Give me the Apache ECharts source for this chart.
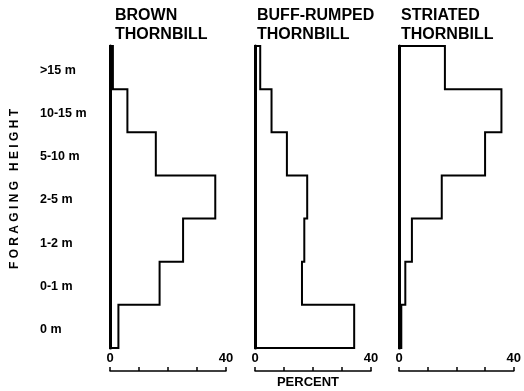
<!DOCTYPE html>
<html>
<head>
<meta charset="utf-8">
<script src="https://cdn.jsdelivr.net/npm/echarts@6/dist/echarts.min.js"></script>
<style>
  html, body { margin: 0; padding: 0; background: #fff; }
  #chart { width: 524px; height: 391px; }
</style>
</head>
<body>
<div id="chart"></div>
<script>
// foraging height classes, bottom to top
const heights = ['0 m', '0-1 m', '1-2 m', '2-5 m', '5-10 m', '10-15 m', '>15 m'];

// percent of observations per height class
const brown = [2.9, 17.1, 25.2, 36.3, 15.8, 6.0, 1.0];
const buffRumped = [34.2, 16.2, 17.0, 18.0, 11.0, 5.7, 1.8];
const striated = [0.8, 2.2, 4.5, 14.9, 30.0, 35.7, 16.0];

const titles = ['BROWN\nTHORNBILL', 'BUFF-RUMPED\nTHORNBILL', 'STRIATED\nTHORNBILL'];
const xTicks = [0, 40];

const font = "'Liberation Sans', Arial, sans-serif";

// step outline: baseline -> value -> up through each band -> back to baseline
const outline = (values) => {
  const pts = [[0, 0]];
  values.forEach((v, i) => {
    pts.push([v, i]);
    pts.push([v, i + 1]);
  });
  pts.push([0, values.length]);
  return pts;
};

const panels = [brown, buffRumped, striated];
const lefts = [110, 255, 399];

const chart = echarts.init(document.getElementById('chart'));

const grid = lefts.map((l) => ({ left: l, width: 116, top: 46, bottom: 43 }));

const xAxis = panels.map((_, i) => ({
  type: 'value',
  gridIndex: i,
  min: 0,
  max: 40,
  interval: 10,
  position: 'bottom',
  offset: 23,
  axisLine: { show: true, onZero: false, lineStyle: { color: '#000', width: 1.5 } },
  axisTick: { show: true, inside: true, length: 4, lineStyle: { color: '#000', width: 1.5 } },
  axisLabel: {
    inside: true,
    margin: 6,
    color: '#000',
    fontFamily: font,
    fontWeight: 'bold',
    fontSize: 13,
    formatter: (v) => (xTicks.includes(v) ? String(v) : '')
  },
  splitLine: { show: false }
}));

// hidden value axes carry the outlines, their axis line is the thick baseline
const yAxis = panels.map((_, i) => ({
  type: 'value',
  gridIndex: i,
  position: 'left',
  min: 0,
  max: heights.length,
  axisLine: { show: true, lineStyle: { color: '#000', width: 3 } },
  axisTick: { show: false },
  axisLabel: { show: false },
  splitLine: { show: false }
}));

// category axis only for the height labels on the first panel
// (labels sit a little below the band centres in the original)
yAxis.push({
  type: 'category',
  gridIndex: 0,
  position: 'left',
  data: heights,
  axisLine: { show: false },
  axisTick: { show: false },
  axisLabel: {
    align: 'left',
    verticalAlign: 'top',
    lineHeight: 6,
    margin: 70,
    color: '#000',
    fontFamily: font,
    fontWeight: 'bold',
    fontSize: 12.5
  }
});

const series = panels.map((vals, i) => ({
  type: 'line',
  xAxisIndex: i,
  yAxisIndex: i,
  data: outline(vals),
  showSymbol: false,
  lineStyle: { color: '#000', width: 2, join: 'miter', cap: 'square' }
}));

chart.setOption({
  animation: false,
  backgroundColor: '#fff',
  title: titles.map((t, i) => ({
    text: t,
    left: [115, 257, 401][i],
    top: 6,
    padding: 0,
    textStyle: {
      color: '#000',
      fontFamily: font,
      fontWeight: 'bold',
      fontSize: 16,
      lineHeight: 19
    }
  })),
  grid,
  xAxis,
  yAxis,
  series,
  graphic: [
    {
      type: 'text',
      x: 15,
      y: 189,
      rotation: Math.PI / 2,
      style: {
        text: 'F O R A G I N G   H E I G H T',
        fill: '#000',
        font: 'bold 12px ' + font,
        textAlign: 'center',
        textVerticalAlign: 'middle'
      }
    },
    {
      type: 'text',
      x: 308,
      y: 382,
      style: {
        text: 'PERCENT',
        fill: '#000',
        font: 'bold 13px ' + font,
        textAlign: 'center',
        textVerticalAlign: 'middle'
      }
    }
  ]
});
</script>
</body>
</html>
